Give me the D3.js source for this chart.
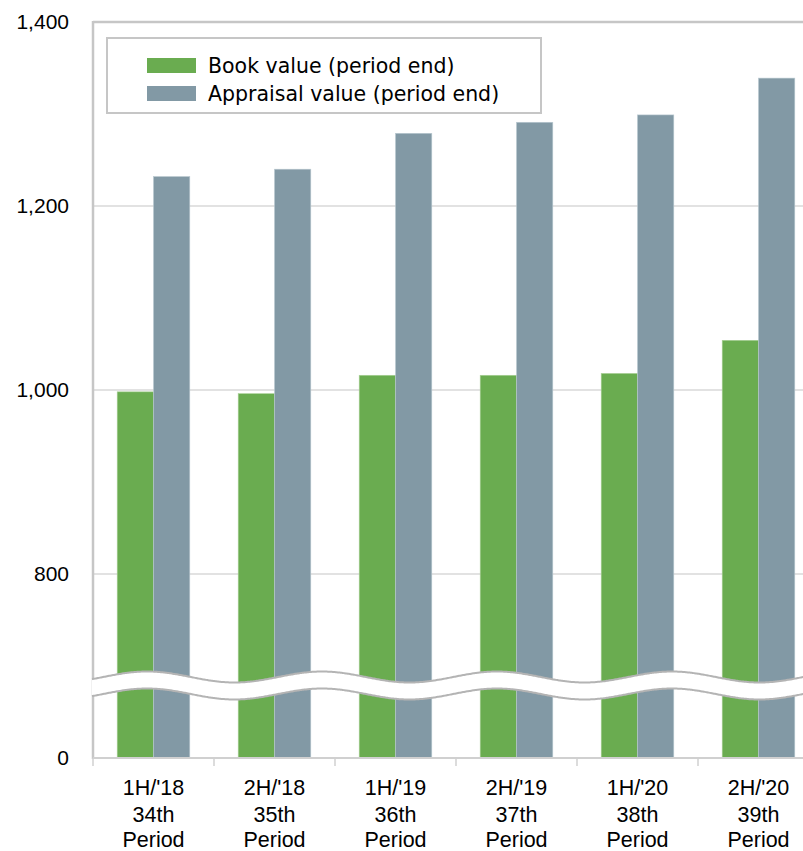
<!DOCTYPE html>
<html>
<head>
<meta charset="utf-8">
<script src="https://cdn.jsdelivr.net/npm/d3@7"></script>
<style>
  body { margin: 0; background: #fff; }
  svg { display: block; }
</style>
</head>
<body>
<div id="chart"></div>
<script>
var periods = ["1H/'18", "2H/'18", "1H/'19", "2H/'19", "1H/'20", "2H/'20"];
var periodNums = ["34th", "35th", "36th", "37th", "38th", "39th"];
var bookValue = [998, 996, 1016, 1016, 1018, 1054];
var appraisalValue = [1232, 1240, 1279, 1291, 1299, 1339];
var yTicks = [0, 800, 1000, 1200, 1400];
var seriesNames = ["Book value (period end)", "Appraisal value (period end)"];
var colors = ["#6aac50", "#8299a5"];

var width = 803, height = 851;
var plotLeft = 93, plotRight = 819, plotTop = 22, plotBottom = 758;

var svg = d3.select("#chart").append("svg")
  .attr("width", width)
  .attr("height", height);

// broken axis: 0..800 squeezed, 800..1400 linear
var y = d3.scaleLinear()
  .domain([0, 800, 1400])
  .range([plotBottom, 574, plotTop]);

var x = d3.scaleBand()
  .domain(periods)
  .range([plotLeft, plotRight])
  .paddingInner(0.4)
  .paddingOuter(0.2);

var xs = d3.scaleBand()
  .domain([0, 1])
  .range([0, x.bandwidth()]);

// gridlines
svg.append("g")
  .selectAll("line")
  .data(yTicks.filter(function(d) { return d > 0; }))
  .enter().append("line")
    .attr("x1", plotLeft)
    .attr("x2", width)
    .attr("y1", function(d) { return y(d); })
    .attr("y2", function(d) { return y(d); })
    .attr("stroke", function(d) { return d == 1400 ? "#c6c6c6" : "#d9d9d9"; })
    .attr("stroke-width", function(d) { return d == 1400 ? 2.5 : 1.5; });

// bars
var groups = svg.append("g")
  .selectAll("g")
  .data(periods)
  .enter().append("g")
    .attr("transform", function(d) { return "translate(" + x(d) + ",0)"; });

groups.append("rect")
  .attr("x", xs(0))
  .attr("width", xs.bandwidth())
  .attr("y", function(d, i) { return y(bookValue[i]); })
  .attr("height", function(d, i) { return plotBottom - y(bookValue[i]); })
  .attr("fill", colors[0])
  .attr("stroke", "#a9d096")
  .attr("stroke-width", 0.6);

groups.append("rect")
  .attr("x", xs(1))
  .attr("width", xs.bandwidth())
  .attr("y", function(d, i) { return y(appraisalValue[i]); })
  .attr("height", function(d, i) { return plotBottom - y(appraisalValue[i]); })
  .attr("fill", colors[1])
  .attr("stroke", "#b9c8d0")
  .attr("stroke-width", 0.6);

// axes
var yAxis = svg.append("g")
  .attr("transform", "translate(" + plotLeft + ",0)")
  .call(d3.axisLeft(y).tickValues(yTicks).tickSize(0).tickPadding(24)
    .tickFormat(d3.format(",")));
yAxis.select(".domain").remove();
yAxis.selectAll("text")
  .attr("font-family", "Liberation Sans, Arial, sans-serif")
  .attr("font-size", "21px")
  .attr("fill", "#000");

svg.append("line")
  .attr("x1", plotLeft).attr("x2", plotLeft)
  .attr("y1", plotTop - 1).attr("y2", plotBottom + 1)
  .attr("stroke", "#c6c6c6")
  .attr("stroke-width", 2.5);

var xAxis = svg.append("g")
  .attr("transform", "translate(0," + plotBottom + ")");
xAxis.append("line")
  .attr("x1", plotLeft).attr("x2", width)
  .attr("stroke", "#d0d0d0")
  .attr("stroke-width", 2);

var step = x.step();
xAxis.selectAll("line.tick")
  .data(d3.range(periods.length + 1))
  .enter().append("line")
    .attr("class", "tick")
    .attr("x1", function(d) { return plotLeft + d * step; })
    .attr("x2", function(d) { return plotLeft + d * step; })
    .attr("y1", 0).attr("y2", 8)
    .attr("stroke", "#d0d0d0")
    .attr("stroke-width", 1.5);

var lbl = xAxis.selectAll("text.lbl")
  .data(periods)
  .enter().append("text")
    .attr("class", "lbl")
    .attr("text-anchor", "middle")
    .attr("font-family", "Liberation Sans, Arial, sans-serif")
    .attr("font-size", "21.5px")
    .attr("fill", "#000");
function cx(d) { return x(d) + x.bandwidth() / 2; }
lbl.append("tspan").attr("x", cx).attr("y", 37).text(function(d) { return d; });
lbl.append("tspan").attr("x", cx).attr("y", 64).text(function(d, i) { return periodNums[i]; });
lbl.append("tspan").attr("x", cx).attr("y", 89).text("Period");

// axis break (wavy band)
var wx = d3.range(plotLeft - 1, width + 2, 2);
function waveY(px) { return 677 - 5.5 * Math.cos(2 * Math.PI * (px - 147) / 175); }
var gap = 17;
var upper = wx.map(function(px) { return [px, waveY(px)]; });
var lower = wx.map(function(px) { return [px, waveY(px) + gap]; });
var line = d3.line().curve(d3.curveBasis);

svg.append("path")
  .attr("d", line(upper) + "L" + lower.slice().reverse().map(function(p) { return p.join(","); }).join("L") + "Z")
  .attr("fill", "#fff");
svg.append("path").attr("d", line(upper)).attr("fill", "none")
  .attr("stroke", "#b4b4b4").attr("stroke-width", 2);
svg.append("path").attr("d", line(lower)).attr("fill", "none")
  .attr("stroke", "#b4b4b4").attr("stroke-width", 2);

// legend
var legend = svg.append("g");
legend.append("rect")
  .attr("x", 107).attr("y", 38)
  .attr("width", 434).attr("height", 75)
  .attr("fill", "#fff")
  .attr("stroke", "#c6c6c6")
  .attr("stroke-width", 2);

var items = legend.selectAll("g.item")
  .data(seriesNames)
  .enter().append("g")
    .attr("class", "item")
    .attr("transform", function(d, i) { return "translate(147," + (58 + i * 28) + ")"; });
items.append("rect")
  .attr("width", 49).attr("height", 15)
  .attr("fill", function(d, i) { return colors[i]; });
items.append("text")
  .attr("x", 61).attr("y", 15)
  .attr("font-family", "DejaVu Sans, Verdana, sans-serif")
  .attr("font-size", "20.5px")
  .attr("fill", "#000")
  .text(function(d) { return d; });
</script>
</body>
</html>
